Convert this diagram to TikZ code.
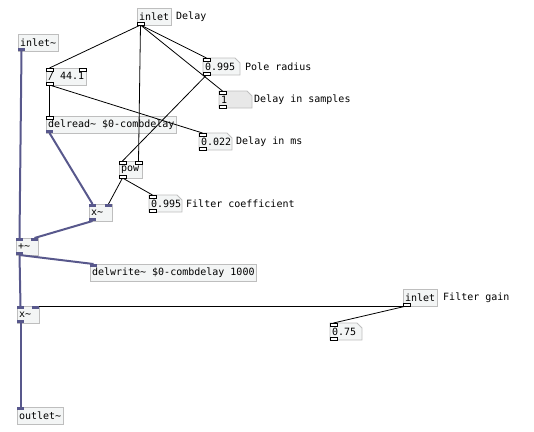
\documentclass[tikz,border=0pt]{standalone}
\usepackage{fontspec}
\newfontfamily\pdfont{DejaVu Sans Mono}
\usetikzlibrary{backgrounds}
\definecolor{sigcol}{RGB}{88,88,140}
\definecolor{boxline}{RGB}{190,190,190}
\definecolor{boxfill}{RGB}{243,245,245}
\definecolor{numgray}{RGB}{232,232,232}
\tikzset{
	objstyle/.style={rectangle, draw=boxline, fill=boxfill, line width=0.8pt, anchor=north west, outer sep=0pt,
		inner xsep=2pt, inner ysep=0pt, minimum height=17pt, font=\pdfont, text=black, align=left},
	numstyle/.style={objstyle, draw=none, fill=none},
	commentstyle/.style={anchor=north west, inner xsep=2pt, inner ysep=0pt, minimum height=17pt, font=\pdfont},
	numframe/.style={draw=boxline, fill=boxfill, line width=0.8pt},
	ctlcord/.style={draw=black, line width=0.8pt},
	sigcord/.style={draw=sigcol, line width=2pt},
	ctlport/.style={draw=black, fill=white, line width=0.7pt},
	sigport/.style={fill=sigcol}
}

\begin{document}
\begin{tikzpicture}[x=1pt, y=-1pt]
\useasboundingbox (0,0) rectangle (534,431);

\node[objstyle] (dly) at (137,8) {inlet};
\node[objstyle] (sigin) at (18,34) {inlet\textasciitilde};
\node[objstyle] (div) at (46,68) {/ 44.1};
\node[objstyle] (rd) at (46,116) {delread\textasciitilde{} \$0-combdelay};
\node[numstyle, text width=33pt] (rad) at (203,58) {0.995};
\node[numstyle, text width=29pt] (smp) at (219,91) {1};
\node[numstyle, text width=29pt] (ms) at (199,133) {0.022};
\node[objstyle, text width=19pt] (pow) at (119,161) {pow};
\node[objstyle, text width=19pt] (mul) at (89,204) {x\textasciitilde};
\node[numstyle, text width=29pt] (coef) at (149,195) {0.995};
\node[objstyle, text width=18pt] (add) at (16,238) {+\textasciitilde};
\node[objstyle] (wr) at (90,264) {delwrite\textasciitilde{} \$0-combdelay 1000};
\node[objstyle, text width=18pt] (gmul) at (17,306) {x\textasciitilde};
\node[objstyle] (gin) at (403,289) {inlet};
\node[numstyle, text width=28pt] (gain) at (330,323) {0.75};
\node[objstyle] (out) at (17,407) {outlet\textasciitilde};

\node[commentstyle] (dlytxt) at (174,8) {Delay};
\node[commentstyle] (radtxt) at (243,58) {Pole radius};
\node[commentstyle] (smptxt) at (252,91) {Delay in samples};
\node[commentstyle] (mstxt) at (234,133) {Delay in ms};
\node[commentstyle] (coeftxt) at (184,195) {Filter coefficient};
\node[commentstyle] (gaintxt) at (441,289) {Filter gain};

% number boxes with the cut corner
\begin{scope}[on background layer]
\filldraw[numframe] (rad.north west) -- ([xshift=-5pt]rad.north east) -- ([yshift=-5pt]rad.north east) -- (rad.south east) -- (rad.south west) -- cycle;
\filldraw[numframe, fill=numgray] (smp.north west) -- ([xshift=-5pt]smp.north east) -- ([yshift=-5pt]smp.north east) -- (smp.south east) -- (smp.south west) -- cycle;
\filldraw[numframe] (ms.north west) -- ([xshift=-5pt]ms.north east) -- ([yshift=-5pt]ms.north east) -- (ms.south east) -- (ms.south west) -- cycle;
\filldraw[numframe] (coef.north west) -- ([xshift=-5pt]coef.north east) -- ([yshift=-5pt]coef.north east) -- (coef.south east) -- (coef.south west) -- cycle;
\filldraw[numframe] (gain.north west) -- ([xshift=-5pt]gain.north east) -- ([yshift=-5pt]gain.north east) -- (gain.south east) -- (gain.south west) -- cycle;
\end{scope}

% control cords
\draw[ctlcord] ([xshift=3.5pt]dly.south west) -- ([xshift=3.5pt]div.north west);
\draw[ctlcord] ([xshift=3.5pt]dly.south west) -- ([xshift=3.5pt]rad.north west);
\draw[ctlcord] ([xshift=3.5pt]dly.south west) -- ([xshift=3.5pt]smp.north west);
\draw[ctlcord] ([xshift=3.5pt]dly.south west) -- ([xshift=-3.5pt]pow.north east);
\draw[ctlcord] ([xshift=3.5pt]rad.south west) -- ([xshift=3.5pt]pow.north west);
\draw[ctlcord] ([xshift=3.5pt]div.south west) -- ([xshift=3.5pt]rd.north west);
\draw[ctlcord] ([xshift=3.5pt]div.south west) -- ([xshift=3.5pt]ms.north west);
\draw[ctlcord] ([xshift=3.5pt]pow.south west) -- ([xshift=-3.5pt]mul.north east);
\draw[ctlcord] ([xshift=3.5pt]pow.south west) -- ([xshift=3.5pt]coef.north west);
\draw[ctlcord] ([xshift=3.5pt]gin.south west) -- ([xshift=-3.5pt]gmul.north east);
\draw[ctlcord] ([xshift=3.5pt]gin.south west) -- ([xshift=3.5pt]gain.north west);

% signal cords
\draw[sigcord] ([xshift=3.5pt]sigin.south west) -- ([xshift=3.5pt]add.north west);
\draw[sigcord] ([xshift=3.5pt]rd.south west) -- ([xshift=3.5pt]mul.north west);
\draw[sigcord] ([xshift=3.5pt]mul.south west) -- ([xshift=-3.5pt]add.north east);
\draw[sigcord] ([xshift=3.5pt]add.south west) -- ([xshift=3.5pt]wr.north west);
\draw[sigcord] ([xshift=3.5pt]add.south west) -- ([xshift=3.5pt]gmul.north west);
\draw[sigcord] ([xshift=3.5pt]gmul.south west) -- ([xshift=3.5pt]out.north west);

% inlets and outlets
\draw[ctlport] (dly.south west) rectangle ++(7,-3);
\fill[sigport] (sigin.south west) rectangle ++(7,-3);
\draw[ctlport] (div.north west) rectangle ++(7,3);
\draw[ctlport] (div.north east) rectangle ++(-7,3);
\draw[ctlport] (div.south west) rectangle ++(7,-3);
\draw[ctlport] (rd.north west) rectangle ++(7,3);
\fill[sigport] (rd.south west) rectangle ++(7,-3);
\draw[ctlport] (rad.north west) rectangle ++(7,3);
\draw[ctlport] (rad.south west) rectangle ++(7,-3);
\draw[ctlport] (smp.north west) rectangle ++(7,3);
\draw[ctlport] (smp.south west) rectangle ++(7,-3);
\draw[ctlport] (ms.north west) rectangle ++(7,3);
\draw[ctlport] (ms.south west) rectangle ++(7,-3);
\draw[ctlport] (pow.north west) rectangle ++(7,3);
\draw[ctlport] (pow.north east) rectangle ++(-7,3);
\draw[ctlport] (pow.south west) rectangle ++(7,-3);
\fill[sigport] (mul.north west) rectangle ++(7,3);
\fill[sigport] (mul.north east) rectangle ++(-7,3);
\fill[sigport] (mul.south west) rectangle ++(7,-3);
\draw[ctlport] (coef.north west) rectangle ++(7,3);
\draw[ctlport] (coef.south west) rectangle ++(7,-3);
\fill[sigport] (add.north west) rectangle ++(7,3);
\fill[sigport] (add.north east) rectangle ++(-7,3);
\fill[sigport] (add.south west) rectangle ++(7,-3);
\fill[sigport] (wr.north west) rectangle ++(7,3);
\fill[sigport] (gmul.north west) rectangle ++(7,3);
\fill[sigport] (gmul.north east) rectangle ++(-7,3);
\fill[sigport] (gmul.south west) rectangle ++(7,-3);
\draw[ctlport] (gin.south west) rectangle ++(7,-3);
\draw[ctlport] (gain.north west) rectangle ++(7,3);
\draw[ctlport] (gain.south west) rectangle ++(7,-3);
\fill[sigport] (out.north west) rectangle ++(7,3);
\end{tikzpicture}
\end{document}
